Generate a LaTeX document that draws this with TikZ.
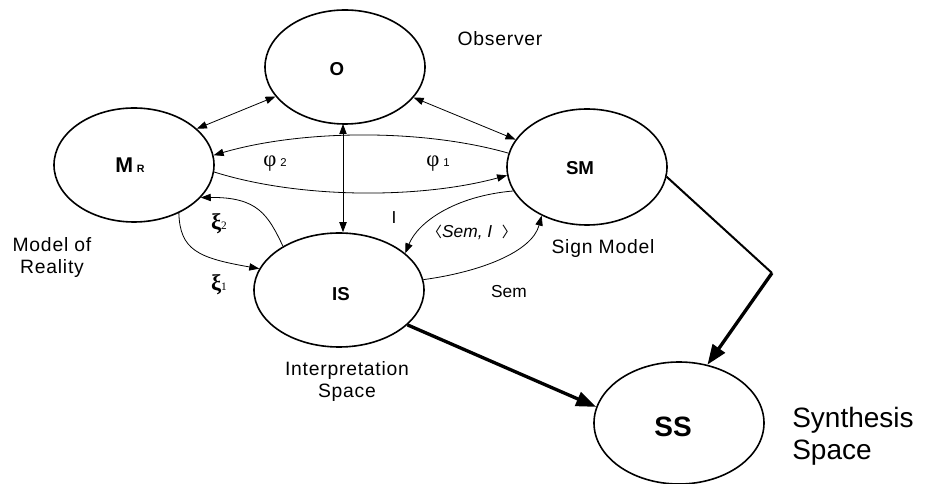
\documentclass[tikz,border=0pt]{standalone}
\usepackage{fontspec}
\setmainfont{Liberation Sans}[LetterSpace=4]
\newfontfamily\plainsans{Liberation Sans}
\newfontfamily\serifgr{Liberation Serif}
\newfontfamily\cjkbr{Noto Sans CJK SC}
\usetikzlibrary{shapes.geometric,arrows.meta}
\begin{document}
\begin{tikzpicture}[x=0.75pt,y=-0.75pt,
  ell/.style={draw,ellipse,line width=1.2pt,inner sep=0pt},
  thin/.style={line width=0.6pt},
  arr/.style={-{Triangle[length=7.5pt,width=5.5pt]}},
  barr/.style={{Triangle[length=7.5pt,width=5.5pt]}-{Triangle[length=7.5pt,width=5.5pt]}},
  thickarr/.style={line width=2.5pt,-{Triangle[length=15pt,width=11pt]}},
  lbl/.style={font=\fontsize{14.5pt}{16.5pt}\selectfont,align=center,inner sep=0pt},
  bigl/.style={font=\plainsans\fontsize{21pt}{24pt}\selectfont,align=left,inner sep=0pt,anchor=west},
  bl/.style={font=\plainsans\bfseries\fontsize{14pt}{16pt}\selectfont,inner sep=0pt},
  gl/.style={font=\serifgr\fontsize{17pt}{19pt}\selectfont,inner sep=0pt},
  sl/.style={font=\plainsans\fontsize{13pt}{15pt}\selectfont,inner sep=0pt}
]
\useasboundingbox (0,0) rectangle (943,484);
% ellipses
\node[ell,minimum width=120pt,minimum height=85.5pt] (O) at (345,67) {};
\node[ell,minimum width=120pt,minimum height=85.5pt] (MR) at (134,165) {};
\node[ell,minimum width=120pt,minimum height=87pt] (SM) at (587,167) {};
\node[ell,minimum width=127.5pt,minimum height=85.5pt] (IS) at (339,290) {};
\node[ell,minimum width=127.5pt,minimum height=91.5pt] (SS) at (679,423) {};
% node texts
\node[bl] (tO) at (337,69) {O};
\node[inner sep=0pt] (tMR) at (130,165) {\plainsans\bfseries\fontsize{16pt}{18pt}\selectfont M\,{\fontsize{8pt}{9pt}\selectfont R}};
\node[bl] (tSM) at (580,168) {SM};
\node[bl] (tIS) at (341,294) {IS};
\node[inner sep=0pt,font=\plainsans\bfseries\fontsize{21pt}{24pt}\selectfont] (tSS) at (673,427) {SS};
% outer labels
\node[lbl] (lObs) at (500,39) {Observer};
\node[lbl] (lMR) at (52,258) {Model of\\Reality};
\node[lbl] (lIS) at (347,382) {Interpretation\\Space};
\node[lbl] (lSM) at (603,249) {Sign Model};
\node[bigl] (lSS) at (792,436) {Synthesis\\Space};
% connector labels
\node[gl] (phi2) at (275,164) {φ\,{\plainsans\fontsize{8.5pt}{9pt}\selectfont 2}};
\node[gl] (phi1) at (438,164) {φ\,{\plainsans\fontsize{8.5pt}{9pt}\selectfont 1}};
\node[gl] (xi2) at (219,224) {\bfseries ξ{\mdseries\fontsize{8.5pt}{9pt}\selectfont 2}};
\node[gl] (xi1) at (219,285) {\bfseries ξ{\mdseries\fontsize{8.5pt}{9pt}\selectfont 1}};
\node[sl] (lI) at (394,218) {I};
\node[sl] (lSemI) at (472,232) {{\cjkbr\fontsize{11pt}{13pt}\selectfont 〈}\itshape Sem, I\ \ {\upshape\cjkbr\fontsize{11pt}{13pt}\selectfont 〉}};
\node[sl] (lSem) at (509,292) {Sem};
% connectors
\draw[thin,barr] (MR.30) -- (O.203);
\draw[thin,barr] (O.-24) -- (SM.159);
\coordinate (Obot) at (343,124);
\draw[thin,barr] (Obot) -- (Obot |- IS.north);
\draw[thin,arr] (SM.170) .. controls (420,128) and (300,130) .. (MR.7);
\draw[thin,arr] (MR.-5) .. controls (300,199) and (420,199) .. (SM.186);
\draw[thin,arr] (IS.142) .. controls (268,215) and (258,197) .. (MR.-26);
\draw[thin,arr] (MR.-47) .. controls (180,250) and (198,258) .. (IS.165);
\draw[thin,arr] (SM.198) .. controls (455,196) and (418,222) .. (IS.29);
\draw[thin,arr] (IS.7) .. controls (480,272) and (532,252) .. (SM.-133);
\coordinate (corner) at (772,273);
\draw[line width=1.5pt] (SM.-7) -- (corner);
\draw[thickarr] (corner) -- (SS.64);
\draw[thickarr] (IS.-27) -- (SS.169);
\end{tikzpicture}
\end{document}
